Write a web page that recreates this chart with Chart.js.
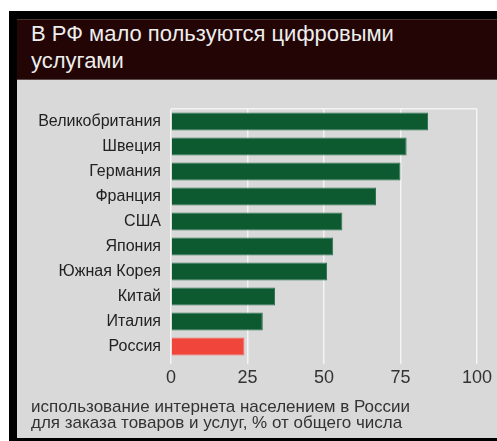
<!DOCTYPE html>
<html>
<head>
<meta charset="utf-8">
<script src="https://cdn.jsdelivr.net/npm/chart.js@4"></script>
<style>
  html, body { margin: 0; padding: 0; background: #fff; }
  #frame { position: absolute; left: 9px; top: 11px; width: 488px; height: 430px; background: #000; }
  #head { position: absolute; left: 17px; top: 19px; width: 480px; height: 61px; background: #220504;
          border-top: 1px solid #4a3433; border-bottom: 1px solid #5a4a4a; box-sizing: border-box; }
  #head div { position: absolute; left: 14px; top: 0px; color: #eeeeee; font: 22px/27px "Liberation Sans", Arial, sans-serif; }
  #panel { position: absolute; left: 17px; top: 80px; width: 480px; height: 358px; background: #d9d9d9; }
  #box { position: absolute; left: 0; top: 0; width: 480px; height: 320px; }
  #note { position: absolute; left: 14px; top: 319px; color: #333; font: 17px/16px "Liberation Sans", Arial, sans-serif; }
</style>
</head>
<body>
<div id="frame"></div>
<div id="head"><div>В РФ мало пользуются цифровыми<br>услугами</div></div>
<div id="panel">
  <div id="box"><canvas id="chart"></canvas></div>
  <div id="note">использование интернета населением в России<br>для заказа товаров и услуг, % от общего числа</div>
</div>
<script>
// data
const countries = ['Великобритания', 'Швеция', 'Германия', 'Франция', 'США',
                   'Япония', 'Южная Корея', 'Китай', 'Италия', 'Россия'];
const shares = [84, 77, 75, 67, 56, 53, 51, 34, 30, 24];
const xTicks = [0, 25, 50, 75, 100];

const green = '#0d5a31';
const red = '#f0453a';

const ctx = document.getElementById('chart').getContext('2d');
new Chart(ctx, {
    type: 'bar',
    data: {
        labels: countries,
        datasets: [{
            data: shares,
            backgroundColor: countries.map(c => c === 'Россия' ? red : green),
            borderColor: countries.map(c => c === 'Россия' ? '#f26a60' : '#2f7450'),
            borderWidth: 1,
            barPercentage: 0.72,
            categoryPercentage: 1,
        }]
    },
    options: {
        indexAxis: 'y',
        responsive: true,
        maintainAspectRatio: false,
        animation: false,
        layout: { padding: { top: 29, right: 20, left: 0, bottom: 0 } },
        plugins: { legend: { display: false }, tooltip: { enabled: false } },
        scales: {
            x: {
                min: 0, max: 100,
                afterBuildTicks: (s) => { s.ticks = xTicks.map(v => ({ value: v })); },
                afterFit: (s) => { s.height = 41; },
                grid: { color: '#f4f4f4', lineWidth: 1.5, tickLength: 5, drawTicks: true },
                border: { display: false },
                ticks: { color: '#333', padding: 3, font: { family: 'Liberation Sans', size: 18 } },
            },
            y: {
                afterFit: (s) => { s.width = 154; },
                grid: { color: (c) => c.index === 0 ? '#f4f4f4' : 'rgba(0,0,0,0)', lineWidth: 1.5, drawTicks: false },
                border: { display: false },
                ticks: { color: '#222', padding: 10, font: { family: 'Liberation Sans', size: 16 } },
            }
        }
    }
});
</script>
</body>
</html>
